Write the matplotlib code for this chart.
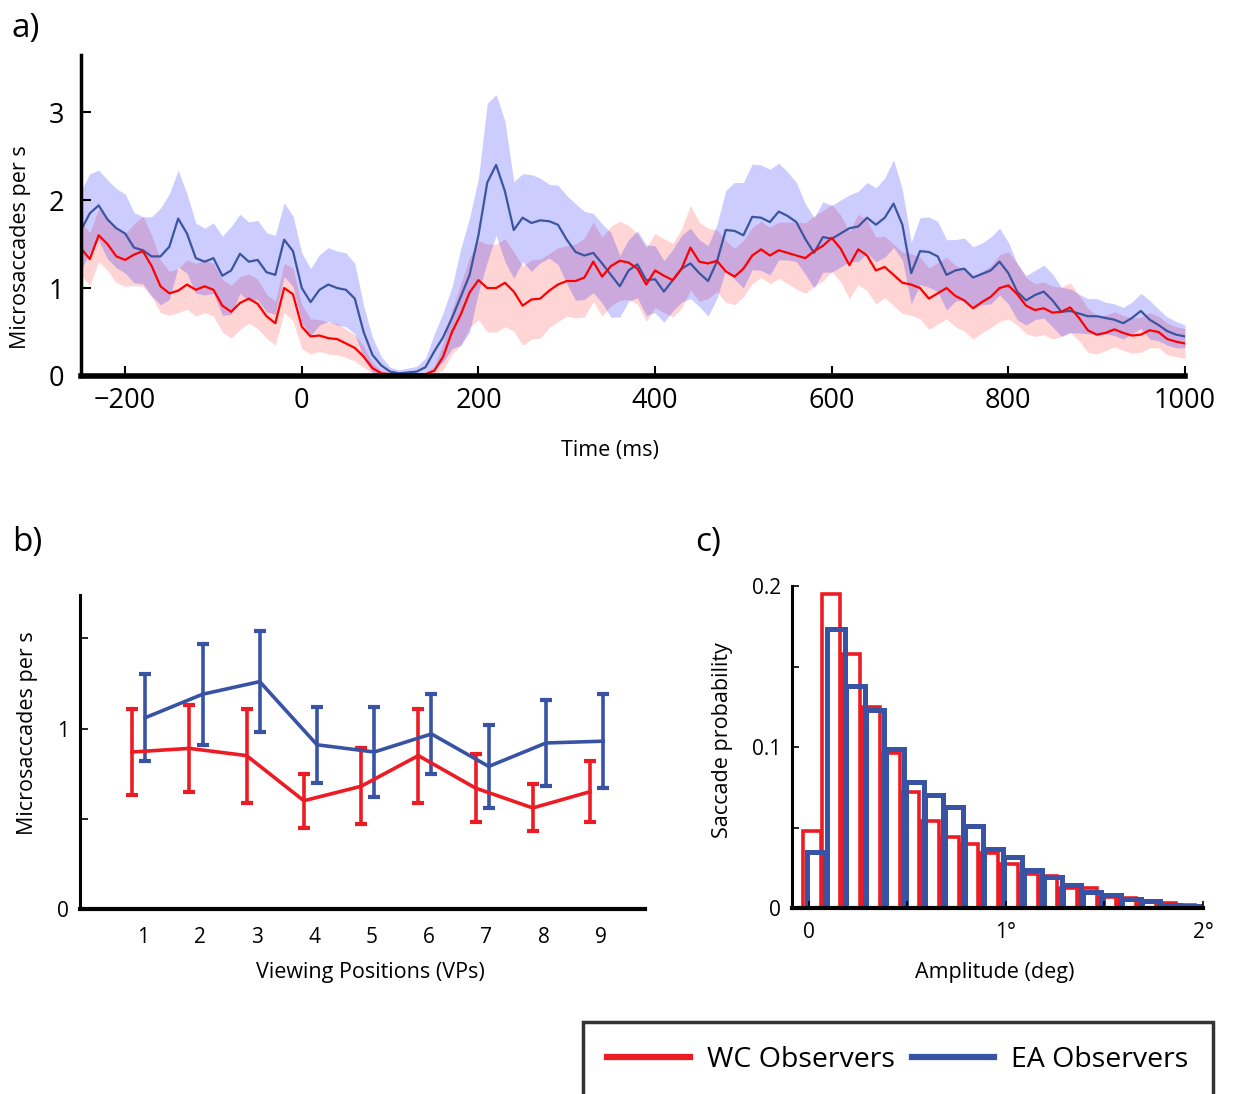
import numpy as np
import matplotlib
matplotlib.use("Agg")
import matplotlib.pyplot as plt
from matplotlib.lines import Line2D

plt.rcParams['font.family'] = ['Open Sans', 'DejaVu Sans']

# ---------------- data ----------------
time_ms = np.arange(-250, 1001, 10)

ea_rate = [1.66, 1.85, 1.94, 1.78, 1.68, 1.62, 1.46, 1.43, 1.36, 1.36,
           1.47, 1.79, 1.62, 1.34, 1.30, 1.34, 1.14, 1.20, 1.39, 1.30,
           1.32, 1.18, 1.15, 1.55, 1.42, 1.00, 0.84, 0.98, 1.04, 1.00,
           0.98, 0.88, 0.50, 0.24, 0.12, 0.05, 0.03, 0.04, 0.05, 0.10,
           0.28, 0.44, 0.66, 0.90, 1.15, 1.60, 2.20, 2.40, 2.10, 1.66,
           1.80, 1.74, 1.77, 1.76, 1.72, 1.55, 1.41, 1.37, 1.40, 1.28,
           1.15, 1.02, 1.20, 1.27, 1.09, 1.10, 0.96, 1.09, 1.22, 1.28,
           1.17, 1.08, 1.30, 1.66, 1.65, 1.60, 1.81, 1.80, 1.75, 1.87,
           1.82, 1.75, 1.56, 1.40, 1.58, 1.56, 1.62, 1.68, 1.70, 1.80,
           1.72, 1.80, 1.96, 1.72, 1.17, 1.42, 1.41, 1.36, 1.15, 1.20,
           1.22, 1.12, 1.16, 1.20, 1.30, 1.17, 0.96, 0.86, 0.92, 0.96,
           0.86, 0.73, 0.74, 0.71, 0.68, 0.68, 0.66, 0.64, 0.60, 0.66,
           0.74, 0.64, 0.58, 0.51, 0.47, 0.45]

ea_sem = [0.45, 0.45, 0.40, 0.45, 0.45, 0.45, 0.40, 0.38, 0.45, 0.55,
          0.60, 0.55, 0.45, 0.40, 0.38, 0.40, 0.45, 0.50, 0.45, 0.45,
          0.45, 0.45, 0.45, 0.42, 0.40, 0.40, 0.38, 0.40, 0.42, 0.42,
          0.42, 0.40, 0.30, 0.20, 0.10, 0.05, 0.04, 0.05, 0.06, 0.10,
          0.20, 0.28, 0.35, 0.55, 0.65, 0.65, 0.90, 0.80, 0.80, 0.55,
          0.50, 0.55, 0.48, 0.42, 0.45, 0.50, 0.55, 0.50, 0.45, 0.45,
          0.48, 0.35, 0.35, 0.38, 0.40, 0.38, 0.35, 0.35, 0.38, 0.40,
          0.38, 0.40, 0.42, 0.45, 0.55, 0.60, 0.60, 0.60, 0.60, 0.55,
          0.50, 0.45, 0.40, 0.40, 0.40, 0.38, 0.38, 0.38, 0.40, 0.40,
          0.42, 0.45, 0.50, 0.40, 0.35, 0.38, 0.40, 0.40, 0.40, 0.35,
          0.35, 0.35, 0.35, 0.38, 0.38, 0.35, 0.32, 0.28, 0.28, 0.30,
          0.30, 0.28, 0.25, 0.22, 0.20, 0.20, 0.18, 0.18, 0.18, 0.18,
          0.20, 0.22, 0.18, 0.16, 0.15, 0.13]

wc_rate = [1.45, 1.33, 1.60, 1.50, 1.36, 1.32, 1.38, 1.42, 1.25, 1.02,
           0.94, 0.97, 1.04, 0.98, 1.02, 0.98, 0.80, 0.73, 0.83, 0.88,
           0.82, 0.68, 0.60, 1.00, 0.93, 0.56, 0.45, 0.46, 0.43, 0.42,
           0.37, 0.32, 0.22, 0.09, 0.03, 0.02, 0.02, 0.02, 0.02, 0.02,
           0.06, 0.22, 0.50, 0.70, 0.95, 1.09, 1.00, 1.00, 1.06, 0.96,
           0.80, 0.87, 0.88, 0.97, 1.04, 1.08, 1.08, 1.12, 1.30, 1.13,
           1.25, 1.31, 1.29, 1.22, 1.04, 1.20, 1.14, 1.09, 1.22, 1.46,
           1.30, 1.28, 1.31, 1.19, 1.13, 1.22, 1.37, 1.44, 1.37, 1.43,
           1.40, 1.37, 1.34, 1.42, 1.48, 1.57, 1.45, 1.26, 1.44, 1.37,
           1.20, 1.24, 1.15, 1.06, 1.04, 1.00, 0.88, 0.94, 1.00, 0.91,
           0.86, 0.77, 0.84, 0.90, 1.00, 1.03, 0.93, 0.80, 0.75, 0.77,
           0.72, 0.73, 0.78, 0.66, 0.52, 0.47, 0.49, 0.53, 0.49, 0.46,
           0.47, 0.52, 0.50, 0.42, 0.39, 0.37]

wc_sem = [0.30, 0.30, 0.30, 0.30, 0.30, 0.30, 0.35, 0.40, 0.35, 0.30,
          0.25, 0.25, 0.28, 0.30, 0.30, 0.30, 0.30, 0.30, 0.30, 0.28,
          0.28, 0.25, 0.25, 0.28, 0.30, 0.25, 0.20, 0.18, 0.18, 0.18,
          0.16, 0.15, 0.12, 0.06, 0.03, 0.02, 0.02, 0.02, 0.02, 0.02,
          0.05, 0.15, 0.25, 0.35, 0.40, 0.45, 0.50, 0.50, 0.50, 0.45,
          0.45, 0.45, 0.45, 0.42, 0.42, 0.40, 0.42, 0.45, 0.45, 0.45,
          0.45, 0.45, 0.42, 0.40, 0.42, 0.42, 0.42, 0.42, 0.45, 0.48,
          0.45, 0.40, 0.35, 0.35, 0.32, 0.32, 0.32, 0.32, 0.32, 0.32,
          0.35, 0.38, 0.40, 0.40, 0.40, 0.38, 0.38, 0.38, 0.40, 0.40,
          0.38, 0.35, 0.35, 0.35, 0.35, 0.35, 0.35, 0.35, 0.35, 0.35,
          0.35, 0.35, 0.35, 0.35, 0.38, 0.38, 0.35, 0.32, 0.30, 0.30,
          0.30, 0.28, 0.28, 0.26, 0.25, 0.22, 0.20, 0.20, 0.20, 0.20,
          0.20, 0.20, 0.18, 0.18, 0.17, 0.17]

time_ticks = [-200, 0, 200, 400, 600, 800, 1000]
time_ticklabels = ['\u2212200', '0', '200', '400', '600', '800', '1000']

vp = [1, 2, 3, 4, 5, 6, 7, 8, 9]
wc_vp_mean = [0.87, 0.89, 0.85, 0.60, 0.68, 0.85, 0.67, 0.56, 0.65]
wc_vp_err = [0.24, 0.24, 0.26, 0.15, 0.21, 0.26, 0.19, 0.13, 0.17]
ea_vp_mean = [1.06, 1.19, 1.26, 0.91, 0.87, 0.97, 0.79, 0.92, 0.93]
ea_vp_err = [0.24, 0.28, 0.28, 0.21, 0.25, 0.22, 0.23, 0.24, 0.26]

amp_bins = [0.0, 0.1, 0.2, 0.3, 0.4, 0.5, 0.6, 0.7, 0.8, 0.9,
            1.0, 1.1, 1.2, 1.3, 1.4, 1.5, 1.6, 1.7, 1.8, 1.9]
wc_prob = [0.048, 0.195, 0.158, 0.125, 0.096, 0.072, 0.054, 0.044, 0.040, 0.034,
           0.0275, 0.021, 0.0196, 0.0125, 0.0125, 0.0067, 0.006, 0.004, 0.003, 0.0017]
ea_prob = [0.035, 0.173, 0.138, 0.123, 0.099, 0.078, 0.070, 0.0625, 0.051, 0.0365,
           0.0317, 0.0233, 0.019, 0.014, 0.0098, 0.0083, 0.0058, 0.0042, 0.002, 0.001]

# ---------------- style ----------------
RED_A = '#ff0000'
BLUE_A = '#3b55a0'
RED = '#ed1c24'
BLUE = '#3953a4'

W, H = 1236, 1094
fig = plt.figure(figsize=(W / 100, H / 100), dpi=100)


def box(l, r, t, b):
    return [l / W, 1 - b / H, (r - l) / W, (b - t) / H]


# ---------------- panel a ----------------
ax = fig.add_axes(box(81, 1185, 55, 376))
t = np.asarray(time_ms)
ea = np.asarray(ea_rate); eas = np.asarray(ea_sem)
wc = np.asarray(wc_rate); wcs = np.asarray(wc_sem)
ax.fill_between(t, wc - wcs, wc + wcs, color=(1, 0, 0), alpha=0.17, linewidth=0)
ax.fill_between(t, ea - eas, ea + eas, color=(0, 0, 1), alpha=0.2, linewidth=0)
ax.plot(t, ea, color=BLUE_A, lw=1.6)
ax.plot(t, wc, color=RED_A, lw=1.6)
ax.set_xlim(-250, 1000)
ax.set_ylim(0, 3.65)
ax.set_xticks(time_ticks)
ax.set_xticklabels(time_ticklabels)
ax.set_yticks([0, 1, 2, 3])
ax.tick_params(axis='both', direction='in', length=7, width=1.5, labelsize=19.5)
ax.tick_params(axis='x', pad=8)
ax.tick_params(axis='y', pad=12)
for s in ['top', 'right']:
    ax.spines[s].set_visible(False)
ax.spines['left'].set_linewidth(2.5)
ax.spines['bottom'].set_linewidth(4)
ax.set_xlabel('Time (ms)', fontsize=15.5)
ax.xaxis.set_label_coords((610 - 81) / 1104, -(440 - 376) / 321)
ax.set_ylabel('Microsaccades per s', fontsize=15.5)
ax.yaxis.set_label_coords(-(81 - 31) / 1104, (376 - 247) / 321)

# ---------------- panel b ----------------
bx = fig.add_axes(box(80, 645, 595, 909))
xv = np.asarray(vp, dtype=float)
bx.errorbar(xv - 0.19, wc_vp_mean, yerr=wc_vp_err, color=RED, lw=2.6,
            elinewidth=2.6, capsize=4, capthick=3)
bx.errorbar(xv + 0.04, ea_vp_mean, yerr=ea_vp_err, color=BLUE, lw=2.6,
            elinewidth=2.6, capsize=4, capthick=3)
bx.set_xlim(-0.1, 9.77)
bx.set_ylim(0, 1.74)
bx.set_xticks(vp)
bx.set_yticks([0, 0.5, 1, 1.5])
bx.set_yticklabels(['0', '', '1', ''])
bx.tick_params(axis='x', length=0, pad=13, labelsize=15)
bx.tick_params(axis='y', direction='in', length=6, width=1.2, pad=8, labelsize=15)
for s in ['top', 'right']:
    bx.spines[s].set_visible(False)
bx.spines['left'].set_linewidth(2.2)
bx.spines['bottom'].set_linewidth(3)
bx.set_xlabel('Viewing Positions (VPs)', fontsize=15.5)
bx.xaxis.set_label_coords((370 - 80) / 565, -(962 - 909) / 314)
bx.set_ylabel('Microsaccades per s', fontsize=15.5)
bx.yaxis.set_label_coords(-(80 - 38) / 565, (909 - 733) / 314)

# ---------------- panel c ----------------
cx = fig.add_axes(box(792, 1203, 586, 908))
ab = np.asarray(amp_bins)
cx.bar(ab + 0.015, wc_prob, width=0.092, fill=False, edgecolor=RED, linewidth=2.6)
cx.bar(ab + 0.037, ea_prob, width=0.092, fill=False, edgecolor=BLUE, linewidth=3.6)
cx.set_xlim(-0.085, 2.0)
cx.set_ylim(0, 0.2)
cx.set_xticks([0, 0.5, 1, 1.5, 2])
cx.set_xticklabels(['0', '', '1\u00b0', '', '2\u00b0'])
cx.set_yticks([0, 0.05, 0.1, 0.15, 0.2])
cx.set_yticklabels(['0', '', '0.1', '', '0.2'])
cx.tick_params(axis='both', direction='in', length=5, width=1.2, labelsize=15)
cx.tick_params(axis='x', pad=10)
cx.tick_params(axis='y', pad=8)
for s in ['top', 'right']:
    cx.spines[s].set_visible(False)
cx.spines['left'].set_linewidth(2.2)
cx.spines['bottom'].set_linewidth(3)
cx.set_xlabel('Amplitude (deg)', fontsize=15.5)
cx.xaxis.set_label_coords((995 - 792) / 411, -(962 - 908) / 322)
cx.set_ylabel('Saccade probability', fontsize=15.5)
cx.yaxis.set_label_coords(-(792 - 733) / 411, (908 - 740) / 322)

# ---------------- panel labels ----------------
fig.text(12 / W, 1 - 28 / H, 'a)', fontsize=24, va='center', ha='left')
fig.text(12 / W, 1 - 543 / H, 'b)', fontsize=24, va='center', ha='left')
fig.text(695 / W, 1 - 543 / H, 'c)', fontsize=24, va='center', ha='left')

# ---------------- legend ----------------
handles = [Line2D([], [], color=RED, lw=4.5), Line2D([], [], color=BLUE, lw=4.5)]
leg = fig.legend(handles, ['WC Observers', 'EA Observers'], ncol=2,
                 loc='upper left', bbox_to_anchor=(583 / W, 1 - 1022 / H),
                 fontsize=20.5, frameon=True, fancybox=False, edgecolor='black',
                 handlelength=2.9, handletextpad=0.6, columnspacing=0.6,
                 borderpad=0.85, borderaxespad=0)
leg.get_frame().set_linewidth(2.5)

fig.savefig('out.png', dpi=100)
